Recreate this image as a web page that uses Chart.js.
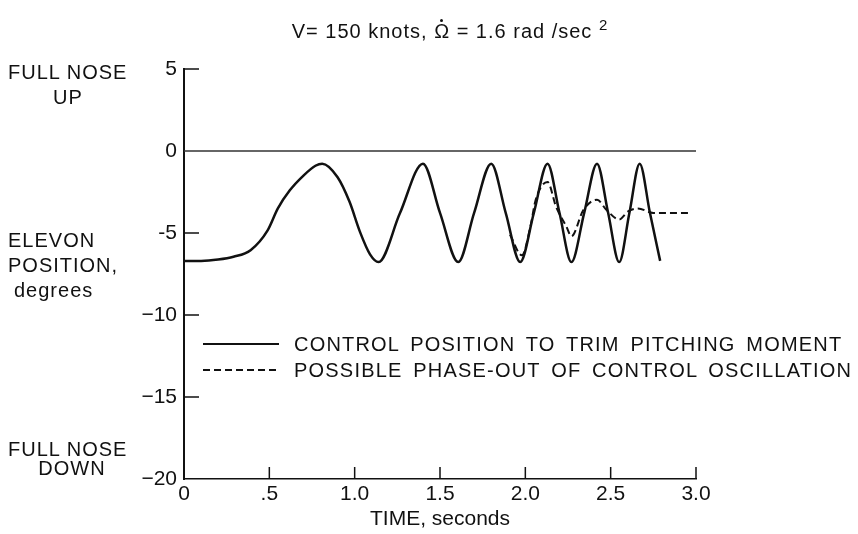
<!DOCTYPE html>
<html>
<head>
<meta charset="utf-8">
<script src="https://cdn.jsdelivr.net/npm/chart.js@4"></script>
<style>
  body { margin: 0; background: #fff; }
  #wrap { position: relative; width: 858px; height: 534px; font-family: "Liberation Sans", Arial, sans-serif; color: #111; }
  #wrap canvas { position: absolute; left: 0; top: 0; }
  .lbl { position: absolute; font-size: 20px; line-height: 24px; letter-spacing: 1px; white-space: nowrap; }
  .omega { position: relative; display: inline-block; }
  .omega::after { content: ""; position: absolute; left: 6px; top: 0px; width: 3px; height: 3px; border-radius: 50%; background: #111; }
  #legend { position: absolute; left: 203px; top: 331px; }
  .row { display: flex; align-items: center; height: 26px; }
  .row span { margin-left: 15px; font-size: 20px; letter-spacing: 1.2px; word-spacing: 4px; white-space: nowrap; }
</style>
</head>
<body>
<div id="wrap">
  <canvas id="elevonChart" width="858" height="534"></canvas>
  <div class="lbl" style="left:290px; top:13px; width:320px; text-align:center;">V= 150 knots, <span class="omega">&#937;</span> = 1.6 rad /sec <sup style="font-size:15px;">2</sup></div>
  <div class="lbl" style="left:8px; top:60px;">FULL NOSE</div>
  <div class="lbl" style="left:8px; top:85px; width:120px; text-align:center;">UP</div>
  <div class="lbl" style="left:8px; top:228px;">ELEVON</div>
  <div class="lbl" style="left:8px; top:253px;">POSITION,</div>
  <div class="lbl" style="left:14px; top:278px;">degrees</div>
  <div class="lbl" style="left:8px; top:437px;">FULL NOSE</div>
  <div class="lbl" style="left:8px; top:456px; width:128px; text-align:center;">DOWN</div>
  <div id="legend"></div>
</div>
<script>
// time (s) and elevon position (deg)
const timeSolid = [0, 0.1, 0.2, 0.29, 0.39, 0.49, 0.55, 0.62, 0.70, 0.77, 0.81, 0.90, 0.97, 1.03, 1.09, 1.14, 1.265, 1.40, 1.50, 1.607, 1.70, 1.80, 1.885, 1.97, 2.05, 2.13, 2.20, 2.27, 2.345, 2.42, 2.485, 2.55, 2.61, 2.67, 2.73, 2.79];
const elevonSolid = [-6.7, -6.7, -6.62, -6.45, -6.05, -4.84, -3.5, -2.4, -1.5, -0.9, -0.77, -1.6, -3.1, -4.9, -6.3, -6.77, -3.8, -0.77, -3.77, -6.77, -3.77, -0.77, -3.77, -6.77, -3.77, -0.77, -3.77, -6.77, -3.77, -0.77, -3.77, -6.77, -3.77, -0.77, -3.77, -6.7];

const timeDashed = [1.91, 1.98, 2.03, 2.06, 2.13, 2.18, 2.24, 2.27, 2.34, 2.42, 2.476, 2.55, 2.60, 2.66, 2.75, 2.97];
const elevonDashed = [-5.1, -6.36, -4.6, -3.0, -1.89, -3.4, -4.6, -5.2, -3.6, -2.97, -3.6, -4.18, -3.7, -3.5, -3.78, -3.78];

const zeroTime = [0, 3.0];
const zeroValue = [0, 0];

const xTicks = [0, 0.5, 1.0, 1.5, 2.0, 2.5, 3.0];
const xTickLabels = ['0', '.5', '1.0', '1.5', '2.0', '2.5', '3.0'];
const yTicks = [5, 0, -5, -10, -15, -20];
const yTickLabels = ['5', '0', '-5', '\u221210', '\u221215', '\u221220'];

const seriesLabels = ['CONTROL POSITION TO TRIM PITCHING MOMENT', 'POSSIBLE PHASE-OUT OF CONTROL OSCILLATION'];

const toPoints = (xs, ys) => xs.map((x, i) => ({ x: x, y: ys[i] }));
const FONT = '"Liberation Sans", Arial, sans-serif';

// inward tick marks like the original plot
const innerTicks = {
    id: 'innerTicks',
    afterDatasetsDraw(chart) {
        const { ctx, chartArea, scales } = chart;
        ctx.save();
        ctx.strokeStyle = '#111';
        ctx.lineWidth = 1.5;
        ctx.beginPath();
        yTicks.forEach(v => {
            if (v === 0 || v === -20) return;
            const py = scales.y.getPixelForValue(v);
            ctx.moveTo(chartArea.left, py);
            ctx.lineTo(chartArea.left + 15, py);
        });
        xTicks.forEach(v => {
            if (v === 0) return;
            const px = scales.x.getPixelForValue(v);
            ctx.moveTo(px, chartArea.bottom);
            ctx.lineTo(px, chartArea.bottom - 12);
        });
        ctx.stroke();
        ctx.restore();
    }
};

const chart = new Chart(document.getElementById('elevonChart'), {
    type: 'line',
    data: {
        datasets: [
            {
                label: seriesLabels[0],
                data: toPoints(timeSolid, elevonSolid),
                borderColor: '#111',
                borderWidth: 2.5,
                pointRadius: 0,
                cubicInterpolationMode: 'monotone'
            },
            {
                label: seriesLabels[1],
                data: toPoints(timeDashed, elevonDashed),
                borderColor: '#111',
                borderWidth: 2,
                borderDash: [7, 4],
                pointRadius: 0,
                cubicInterpolationMode: 'monotone'
            },
            {
                label: 'zero',
                data: toPoints(zeroTime, zeroValue),
                borderColor: '#333',
                borderWidth: 1.5,
                pointRadius: 0
            }
        ]
    },
    options: {
        responsive: false,
        animation: false,
        events: [],
        layout: { padding: { top: 69, right: 162, bottom: 0, left: 0 } },
        plugins: {
            legend: { display: false },
            tooltip: { enabled: false }
        },
        scales: {
            x: {
                type: 'linear',
                min: 0,
                max: 3,
                afterFit: scale => { scale.height = 55; },
                afterBuildTicks: scale => { scale.ticks = xTicks.map(v => ({ value: v })); },
                grid: { drawOnChartArea: false, drawTicks: false },
                border: { color: '#111', width: 1.5 },
                ticks: {
                    padding: 3,
                    color: '#111',
                    font: { family: FONT, size: 21 },
                    callback: (v) => xTickLabels[xTicks.indexOf(v)]
                },
                title: {
                    display: true,
                    text: 'TIME, seconds',
                    color: '#111',
                    font: { family: FONT, size: 21 },
                    padding: { top: 0, bottom: 2 }
                }
            },
            y: {
                min: -20,
                max: 5,
                afterFit: scale => { scale.width = 184; },
                afterBuildTicks: scale => { scale.ticks = yTicks.map(v => ({ value: v })); },
                grid: { drawOnChartArea: false, drawTicks: false },
                border: { color: '#111', width: 2 },
                ticks: {
                    padding: 7,
                    color: '#111',
                    font: { family: FONT, size: 21 },
                    callback: (v) => yTickLabels[yTicks.indexOf(v)]
                }
            }
        }
    },
    plugins: [innerTicks]
});

// legend built from the two plotted series
const legendBox = document.getElementById('legend');
chart.data.datasets.slice(0, 2).forEach(ds => {
    const row = document.createElement('div');
    row.className = 'row';
    const dash = ds.borderDash ? ds.borderDash.join(',') : 'none';
    row.innerHTML = '<svg width="76" height="4"><line x1="0" y1="2" x2="76" y2="2" stroke="#111" stroke-width="2" stroke-dasharray="' + dash + '"/></svg><span>' + ds.label + '</span>';
    legendBox.appendChild(row);
});
</script>
</body>
</html>
